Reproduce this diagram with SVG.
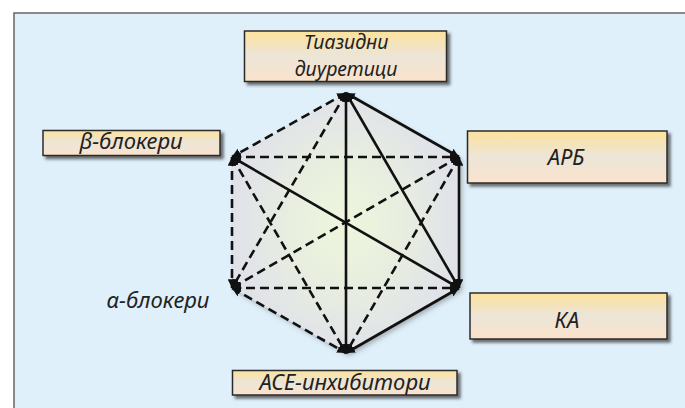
<svg xmlns="http://www.w3.org/2000/svg" width="685" height="408" viewBox="0 0 685 408">
<defs>
<linearGradient id="boxg" x1="0" y1="0" x2="0" y2="1">
<stop offset="0" stop-color="#fde29c"/>
<stop offset="0.5" stop-color="#ece5d8"/>
<stop offset="1" stop-color="#fbe3cb"/>
</linearGradient>
<radialGradient id="hexg" cx="0.5" cy="0.5" r="0.5">
<stop offset="0" stop-color="#eef6dc"/>
<stop offset="0.45" stop-color="#e9efdf"/>
<stop offset="1" stop-color="#e0e2e9"/>
</radialGradient>
<filter id="sh" x="-10%" y="-10%" width="130%" height="140%">
<feDropShadow dx="3" dy="3" stdDeviation="1.5" flood-color="#333" flood-opacity="0.7"/>
</filter>
<filter id="hsh" x="-10%" y="-10%" width="130%" height="130%">
<feDropShadow dx="3" dy="3" stdDeviation="2.5" flood-color="#666" flood-opacity="0.5"/>
</filter>
<marker id="ah" viewBox="0 0 10 10" refX="10" refY="5" markerWidth="3.4" markerHeight="3.4" orient="auto-start-reverse" markerUnits="strokeWidth">
<path d="M0,0 L10,5 L0,10 Z" fill="#111"/>
</marker>
<style>
.box{fill:url(#boxg);stroke:#2b2b2b;stroke-width:1.5;filter:url(#sh)}
.t{font-family:"Noto Sans","Open Sans",sans-serif;font-style:italic;font-size:22px;fill:#222;text-anchor:middle}
.t2{font-size:19.5px}
.s{stroke:#111;stroke-width:2.6;fill:none;marker-start:url(#ah);marker-end:url(#ah)}
.d{stroke:#111;stroke-width:2.6;fill:none;stroke-dasharray:9 5;marker-start:url(#ah);marker-end:url(#ah)}
</style>
</defs>
<rect x="14" y="13" width="690" height="410" fill="#dff0fb" stroke="#666" stroke-width="1.5"/>
<polygon points="346,93 459,157 459,288 346,353 232,288 232,157" fill="url(#hexg)" filter="url(#hsh)"/>
<g id="connectors">
<line class="s" x1="346" y1="93" x2="346" y2="353"/>
<line class="s" x1="346" y1="93" x2="459" y2="157"/>
<line class="s" x1="346" y1="93" x2="459" y2="288"/>
<line class="s" x1="459" y1="157" x2="459" y2="288"/>
<line class="s" x1="232" y1="157" x2="459" y2="288"/>
<line class="s" x1="459" y1="288" x2="346" y2="353"/>
<line class="d" x1="346" y1="93" x2="232" y2="157"/>
<line class="d" x1="346" y1="93" x2="232" y2="288"/>
<line class="d" x1="232" y1="157" x2="459" y2="157"/>
<line class="d" x1="232" y1="157" x2="232" y2="288"/>
<line class="d" x1="232" y1="157" x2="346" y2="353"/>
<line class="d" x1="459" y1="157" x2="232" y2="288"/>
<line class="d" x1="459" y1="157" x2="346" y2="353"/>
<line class="d" x1="232" y1="288" x2="459" y2="288"/>
<line class="d" x1="232" y1="288" x2="346" y2="353"/>
</g>
<g id="thiazide">
<rect class="box" x="244.5" y="31" width="202" height="50.5"/>
<text class="t t2" x="346" y="49">Тиазидни</text>
<text class="t t2" x="346" y="75.5">диуретици</text>
</g>
<g id="beta">
<rect class="box" x="43" y="130.5" width="177" height="25"/>
<text class="t" x="131" y="149">β-блокери</text>
</g>
<g id="arb">
<rect class="box" x="467.5" y="131" width="199.5" height="52"/>
<text class="t" x="566" y="165">АРБ</text>
</g>
<g id="ka">
<rect class="box" x="470" y="293" width="197" height="46"/>
<text class="t" x="567" y="328">КА</text>
</g>
<g id="ace">
<rect class="box" x="232.5" y="370.5" width="224.5" height="24.5"/>
<text class="t" x="345" y="390">АСЕ-инхибитори</text>
</g>
<g id="alpha">
<text class="t" x="158" y="308">α-блокери</text>
</g>
</svg>
